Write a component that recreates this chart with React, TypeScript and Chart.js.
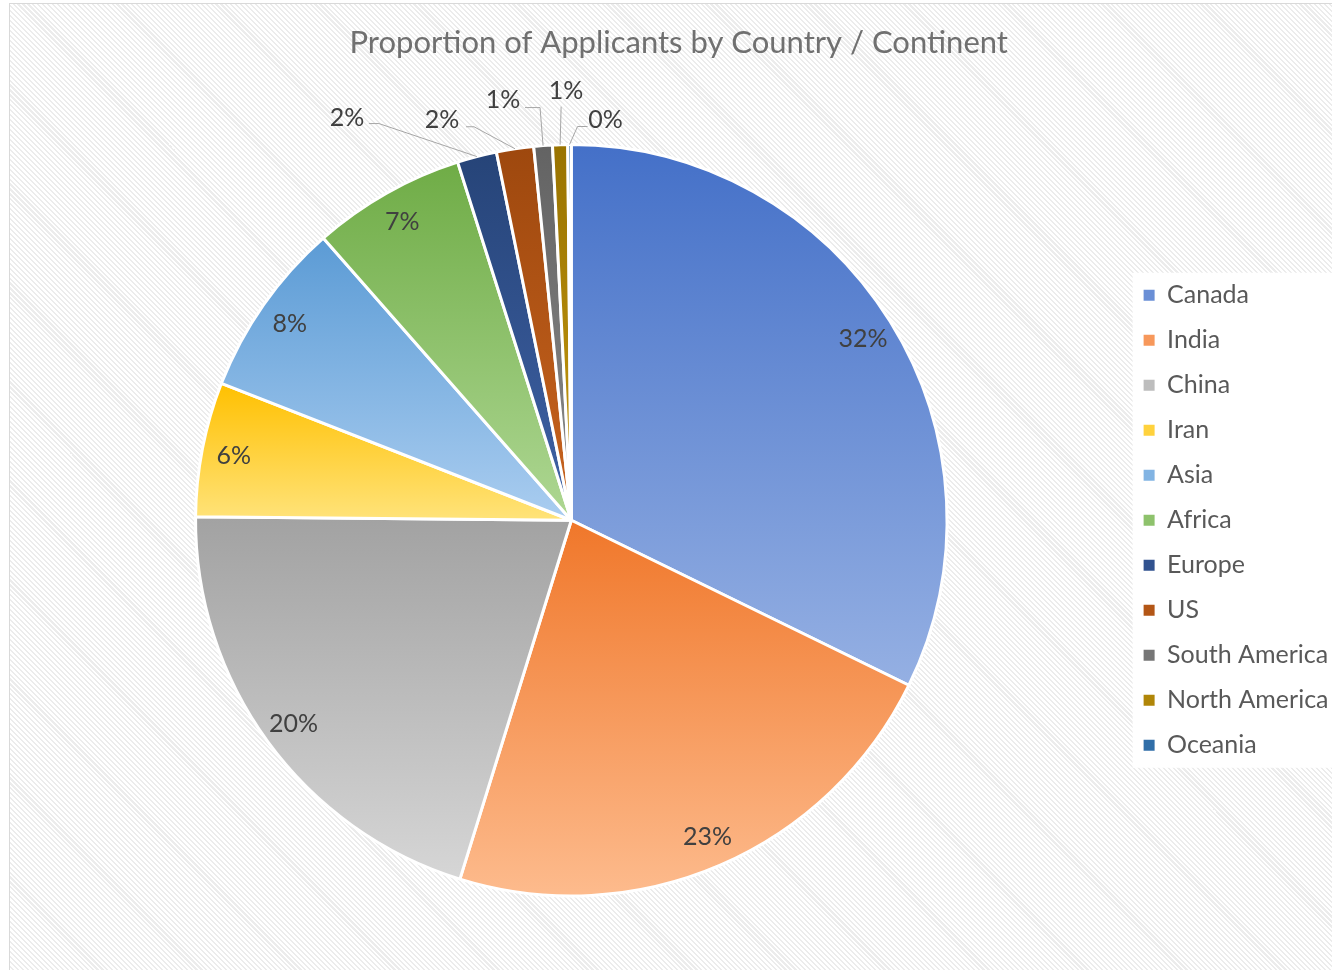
import React, { useEffect, useRef } from "react";
import { Chart, registerables } from "chart.js";

Chart.register(...registerables);

// ---- data ----
const categories = [
  "Canada",
  "India",
  "China",
  "Iran",
  "Asia",
  "Africa",
  "Europe",
  "US",
  "South America",
  "North America",
  "Oceania",
];
const shares = [32.3, 22.6, 20.4, 5.8, 7.6, 6.6, 1.7, 1.6, 0.8, 0.65, 0.15];
const chartTitle = "Proportion of Applicants by Country / Continent";

// ---- styles ----
const gradientTop = [
  "#4470C8", "#F0772A", "#A2A2A2", "#FFC000", "#5B9BD5", "#6FAC46",
  "#264478", "#9E480E", "#636363", "#997300", "#255E91",
];
const gradientBottom = [
  "#95B0E3", "#FDBB8D", "#D6D6D6", "#FFE37A", "#AACDF0", "#AED793",
  "#3F62A6", "#C9641F", "#8A8A8A", "#C79A10", "#3C7DC0",
];
const legendColors = [
  "#6A8FD6", "#F7985B", "#BDBDBD", "#FFD23D", "#82B4E3", "#8EC26C",
  "#31528F", "#B35616", "#767676", "#B08608", "#306EA8",
];
// callout placement for small slices: label offset from arc edge midpoint,
// leader attach offset from label centre, elbow length (horizontal)
const callouts: Record<number, { dx: number; dy: number; ax: number; ay: number; ex: number }> = {
  6: { dx: -130, dy: -40, ax: 22, ay: 7, ex: 10 },
  7: { dx: -73, dy: -30, ax: 24, ay: 8, ex: 8 },
  8: { dx: -40, dy: -47, ax: 22, ay: 9, ex: 15 },
  9: { dx: 6, dy: -55, ax: -5, ay: 17, ex: 0 },
  10: { dx: 36, dy: -26, ax: -18, ay: 8, ex: -10 },
};
const FONT = "Lato, 'Open Sans', sans-serif";
const LABEL_SIZE = 25;

function sectorYRange(cx: number, cy: number, r: number, a0: number, a1: number) {
  const ys = [cy, cy + r * Math.sin(a0), cy + r * Math.sin(a1)];
  const norm = (a: number) => ((a % (2 * Math.PI)) + 2 * Math.PI) % (2 * Math.PI);
  for (const ax of [Math.PI / 2, (3 * Math.PI) / 2]) {
    const span = a1 - a0;
    const d = norm(ax - a0);
    if (d <= span) ys.push(cy + r * Math.sin(ax));
  }
  return [Math.min(...ys), Math.max(...ys)];
}

const gradientPlugin = {
  id: "sliceGradient",
  beforeDatasetsDraw(chart: any) {
    const meta = chart.getDatasetMeta(0);
    meta.data.forEach((arc: any, i: number) => {
      const p = arc.getProps(["x", "y", "startAngle", "endAngle", "outerRadius"], true);
      const [y0, y1] = sectorYRange(p.x, p.y, p.outerRadius, p.startAngle, p.endAngle);
      const g = chart.ctx.createLinearGradient(0, y0, 0, Math.max(y1, y0 + 1));
      g.addColorStop(0, gradientTop[i]);
      g.addColorStop(1, gradientBottom[i]);
      arc.options = Object.assign({}, arc.options, { backgroundColor: g });
    });
  },
};

const legendBgPlugin = {
  id: "legendBg",
  beforeDraw(chart: any) {
    const lg = chart.legend;
    if (!lg) return;
    const pad = lg.options.labels.padding;
    const fs = lg.options.labels.font.size;
    const n = categories.length;
    const colH = n * (fs + pad);
    const cursorY = (lg.top + pad + lg.bottom - colH) / 2;
    const ctx = chart.ctx;
    ctx.save();
    ctx.fillStyle = "#ffffff";
    ctx.fillRect(lg.left + 9, cursorY - 10, chart.width - lg.left - 9, colH - pad + 20);
    ctx.restore();
  },
};

const labelPlugin = {
  id: "pctLabels",
  afterDatasetsDraw(chart: any) {
    const ctx = chart.ctx;
    const meta = chart.getDatasetMeta(0);
    const data = chart.data.datasets[0].data as number[];
    const total = data.reduce((a, b) => a + b, 0);
    ctx.save();
    ctx.font = `${LABEL_SIZE}px ${FONT}`;
    ctx.textAlign = "center";
    ctx.textBaseline = "alphabetic";
    meta.data.forEach((arc: any, i: number) => {
      const p = arc.getProps(["x", "y", "startAngle", "endAngle", "outerRadius"], true);
      const mid = (p.startAngle + p.endAngle) / 2;
      const text = Math.round((data[i] / total) * 100) + "%";
      const c = callouts[i];
      if (!c) {
        const rr = p.outerRadius * 0.915;
        const lx = p.x + Math.cos(mid) * rr;
        const ly = p.y + Math.sin(mid) * rr;
        ctx.fillStyle = "#404040";
        ctx.fillText(text, lx, ly + LABEL_SIZE * 0.36);
      } else {
        const exx = p.x + Math.cos(mid) * p.outerRadius;
        const eyy = p.y + Math.sin(mid) * p.outerRadius;
        const lx = exx + c.dx;
        const ly = eyy + c.dy;
        const axp = lx + c.ax;
        const ayp = ly + c.ay;
        ctx.strokeStyle = "#A6A6A6";
        ctx.lineWidth = 1;
        ctx.beginPath();
        ctx.moveTo(axp, ayp);
        ctx.lineTo(axp + c.ex, ayp);
        ctx.lineTo(exx, eyy);
        ctx.stroke();
        ctx.fillStyle = "#404040";
        ctx.fillText(text, lx, ly + LABEL_SIZE * 0.36);
      }
    });
    ctx.restore();
  },
};

export default function App() {
  const canvasRef = useRef<HTMLCanvasElement | null>(null);

  useEffect(() => {
    if (!canvasRef.current) return;
    const chart = new Chart(canvasRef.current, {
      type: "pie",
      data: {
        labels: categories,
        datasets: [
          {
            data: shares,
            backgroundColor: legendColors,
            borderColor: "#ffffff",
            borderWidth: 3,
          },
        ],
      },
      options: {
        animation: false,
        responsive: true,
        maintainAspectRatio: false,
        layout: { padding: { top: 0, left: 9, right: 7.5, bottom: 72.5 } },
        plugins: {
          title: {
            display: true,
            text: chartTitle,
            color: "#707070",
            font: { family: FONT, size: 31, weight: "normal" },
            padding: { top: 20.8, bottom: 81 },
          },
          legend: {
            display: true,
            position: "right",
            fullSize: false,
            labels: {
              font: { family: FONT, size: 25 },
              color: "#595959",
              boxWidth: 11,
              boxHeight: 11,
              padding: 20,
              generateLabels: () =>
                categories.map((c, i) => ({
                  text: c,
                  fillStyle: legendColors[i],
                  strokeStyle: legendColors[i],
                  lineWidth: 0,
                  hidden: false,
                  index: i,
                  fontColor: "#595959",
                })),
            },
          },
          tooltip: { enabled: false },
        },
      },
      plugins: [legendBgPlugin, gradientPlugin, labelPlugin],
    });
    return () => chart.destroy();
  }, []);

  return (
    <div
      style={{
        position: "absolute",
        left: 9,
        top: 3,
        width: 1322,
        height: 966,
        overflow: "hidden",
        borderLeft: "1px solid #d9d9d9",
        borderTop: "1px solid #d9d9d9",
        background:
          "repeating-linear-gradient(45deg, #ffffff 0px, #ffffff 2px, #ececec 2px, #ececec 3.5px)",
      }}
    >
      <div style={{ position: "relative", width: 1336, height: 966 }}>
        <canvas ref={canvasRef} />
      </div>
    </div>
  );
}
